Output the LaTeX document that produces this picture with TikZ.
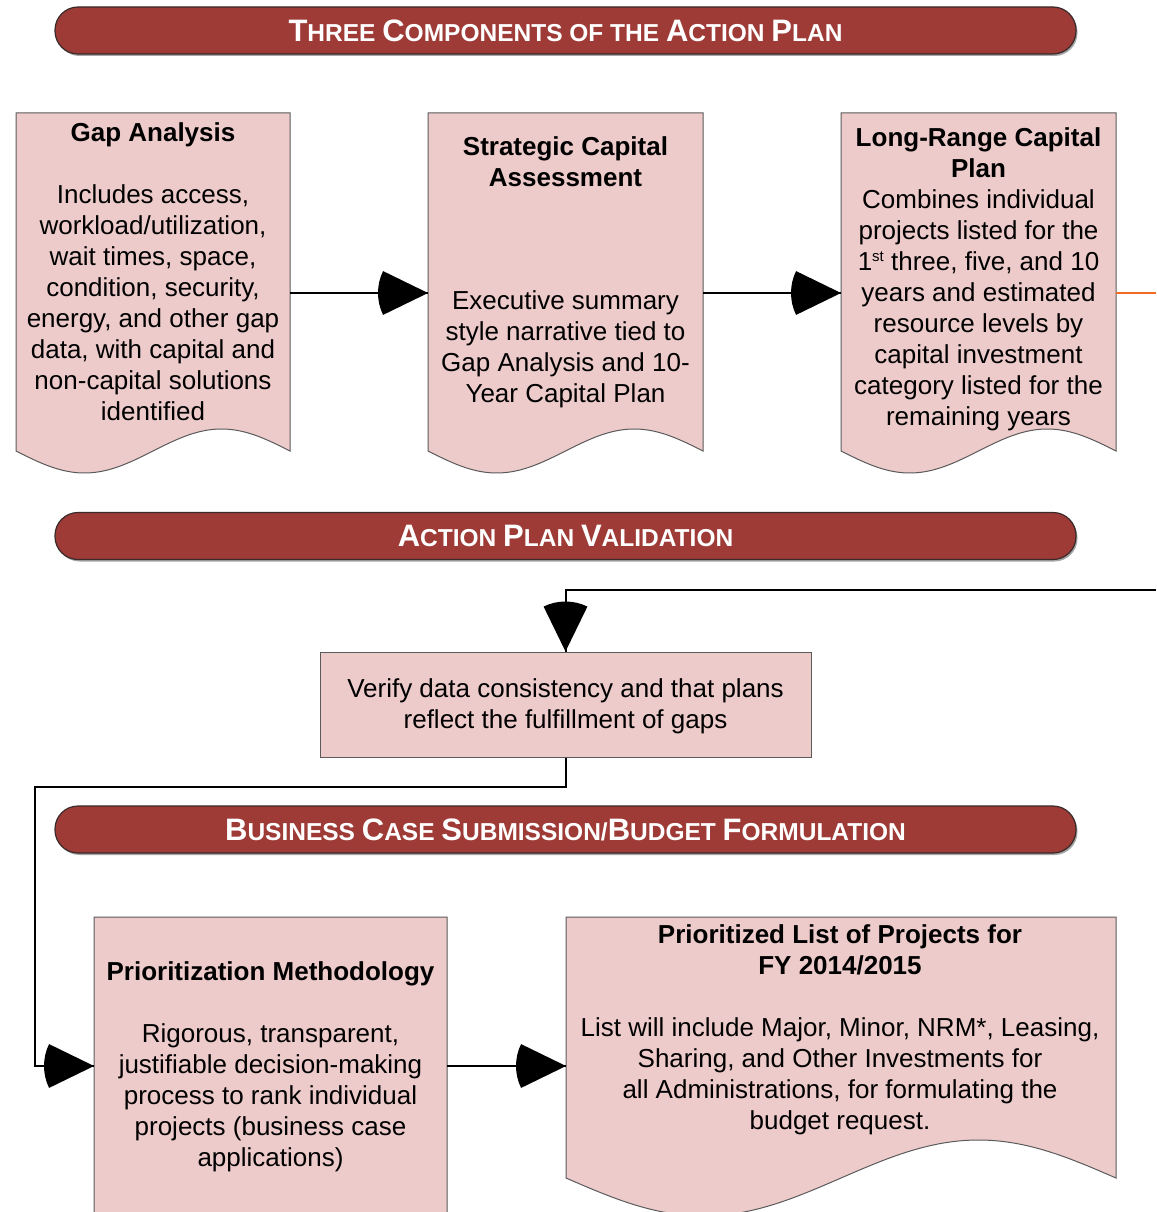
\documentclass[tikz,border=0pt]{standalone}
\usepackage{fontspec}
\setmainfont{Liberation Sans}
\definecolor{boxfill}{HTML}{EDCBCA}
\definecolor{boxline}{HTML}{5A5A5A}
\definecolor{bannerfill}{HTML}{9E3B37}
\definecolor{bannerline}{HTML}{3A2A2A}
\definecolor{orangeline}{HTML}{F26B21}
\newcommand\SCbig[1]{{\fontsize{31}{31}\selectfont #1}}
\newcommand\docshapeP[5]{%
  \filldraw[docbox] (#1,#4) -- (#1,#3) -- (#2,#3) -- (#2,#4) -- plot[domain=#2:#1,samples=80,smooth] (\x,{#4+#5*sin((\x-#1)/(#2-#1)*360)}) -- cycle;}
\begin{document}
\begin{tikzpicture}[x=1pt,y=-1pt,
  docbox/.style={fill=boxfill,draw=boxline,line width=1pt},
  anchorbox/.style={rectangle,inner sep=0,outer sep=0,minimum width=#1},
  bodytext/.style={align=center,inner sep=0,font=\fontsize{26}{31}\selectfont},
  banner/.style={rectangle,rounded corners=23,fill=bannerfill,draw=bannerline,line width=1.2pt,inner sep=0,
    minimum width=1021,minimum height=47,text=white,font=\bfseries\fontsize{24.5}{31}\selectfont},
  bannershadow/.style={rectangle,rounded corners=23,fill=black!35,draw=none,minimum width=1021,minimum height=47},
  conn/.style={line width=2pt,black},
  fan/.pic={\fill[black] (0,0) -- (154:50) arc[start angle=154,end angle=206,radius=50] -- cycle;}
]
\useasboundingbox (0,0) rectangle (1156,1212);
\clip (0,0) rectangle (1156,1212);

% ---- banners
\node[bannershadow] at (567,32.5) {};
\node[banner] (b1) at (565.5,30.5) {\SCbig{T}HREE \SCbig{C}OMPONENTS OF THE \SCbig{A}CTION \SCbig{P}LAN};
\node[bannershadow] at (567,538) {};
\node[banner] (b2) at (565.5,536) {\SCbig{A}CTION \SCbig{P}LAN \SCbig{V}ALIDATION};
\node[bannershadow] at (567,831.5) {};
\node[banner] (b3) at (565.5,829.5) {\SCbig{B}USINESS \SCbig{C}ASE \SCbig{S}UBMISSION/\SCbig{B}UDGET \SCbig{F}ORMULATION};

% ---- document shapes
\docshapeP{16}{290}{113}{451}{22}
\docshapeP{428}{703}{113}{451}{22}
\docshapeP{841}{1116}{113}{451}{22}
\docshapeP{94}{447}{917}{1250}{28}
\docshapeP{566}{1116}{917}{1178}{38}

% anchor nodes for the document shapes
\node[anchorbox=274,minimum height=360] (gap) at (153,293) {};
\node[anchorbox=275,minimum height=360] (strat) at (565.5,293) {};
\node[anchorbox=275,minimum height=360] (plan) at (978.5,293) {};
\node[anchorbox=353,minimum height=298] (meth) at (270.5,1066) {};
\node[anchorbox=550,minimum height=298] (plist) at (841,1066) {};

% ---- texts
\node[bodytext] (gapT) at (153,271.5) {\textbf{Gap Analysis}\\[31pt]
  Includes access,\\workload/utilization,\\wait times, space,\\condition, security,\\energy, and other gap\\data, with capital and\\non-capital solutions\\identified};
\node[bodytext] (stratT) at (565.5,272) {\textbf{Strategic Capital}\\\textbf{Assessment}\\[92pt]
  Executive summary\\style narrative tied to\\Gap Analysis and 10-\\Year Capital Plan};
\node[bodytext] (planT) at (978.5,279.5) {\textbf{Long-Range Capital}\\\textbf{Plan}\\
  Combines individual\\projects listed for the\\1\smash{\raisebox{9pt}{\fontsize{15}{15}\selectfont st}} three, five, and 10\\years and estimated\\resource levels by\\capital investment\\category listed for the\\remaining years};
\node[docbox,minimum width=491,minimum height=105] (verify) at (565.5,704.5) {};
\node[bodytext] (verifyT) at (565.5,706.5)
  {Verify data consistency and that plans\\reflect the fulfillment of gaps};
\node[bodytext] (methT) at (270.5,1067) {\textbf{Prioritization Methodology}\\[31pt]
  Rigorous, transparent,\\justifiable decision-making\\process to rank individual\\projects (business case\\applications)};
\node[bodytext] (plistT) at (840,1030) {\textbf{Prioritized List of Projects for}\\\textbf{FY 2014/2015}\\[31pt]
  List will include Major, Minor, NRM*, Leasing,\\Sharing, and Other Investments for\\all Administrations, for formulating the\\budget request.};

% ---- connectors
\coordinate (orangeEnd) at (1156,293);
\coordinate (feedIn) at (1156,590);
\coordinate (leftTurn) at (35,787);
\draw[conn] (gap.east) -- (strat.west);
\draw[conn] (strat.east) -- (plan.west);
\draw[orangeline,line width=2.5pt] (plan.east) -- (orangeEnd);
\draw[conn] (feedIn) -| (verify.north);
\draw[conn] (verify.south) |- (leftTurn) |- (meth.west);
\draw[conn] (meth.east) -- (plist.west);
\path (strat.west) pic{fan};
\path (plan.west) pic{fan};
\path (verify.north) pic[rotate=-90]{fan};
\path (meth.west) pic{fan};
\path (plist.west) pic{fan};
\end{tikzpicture}
\end{document}
